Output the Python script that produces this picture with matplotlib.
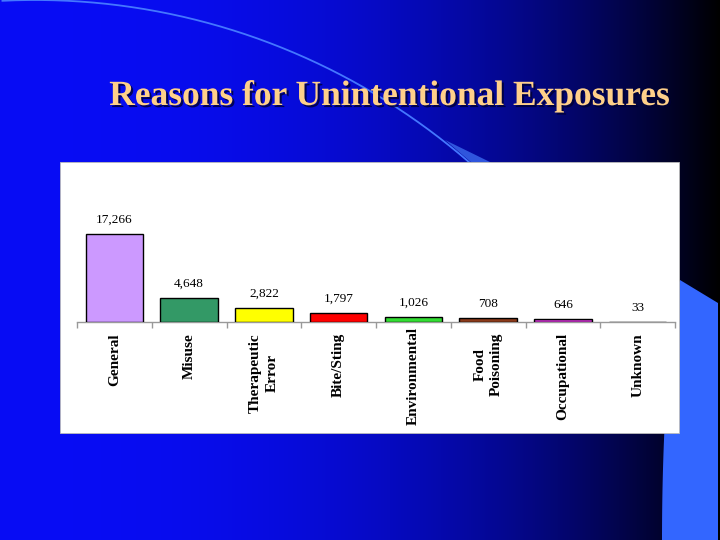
import numpy as np
import matplotlib
matplotlib.use('Agg')
import matplotlib.pyplot as plt
import matplotlib.patheffects as pe
from matplotlib.patches import Rectangle, Polygon

categories = ['General', 'Misuse', 'Therapeutic\nError', 'Bite/Sting',
              'Environmental', 'Food\nPoisoning', 'Occupational', 'Unknown']
values = [17266, 4648, 2822, 1797, 1026, 708, 646, 33]
value_labels = ['17,266', '4,648', '2,822', '1,797', '1,026', '708', '646', '33']
bar_colors = ['#CC99FF', '#339966', '#FFFF00', '#FF0000',
              '#33DD33', '#8B3A1A', '#CC33CC', '#FFFFFF']
title = 'Reasons for Unintentional Exposures'

fig = plt.figure(figsize=(7.2, 5.4), dpi=100)

# slide background, pixel coordinates
bg = fig.add_axes([0, 0, 1, 1])
bg.set_xlim(0, 720)
bg.set_ylim(540, 0)
bg.axis('off')

xs = np.linspace(0, 1, 720)
f = 1 - xs ** 2.5
grad = np.zeros((2, 720, 3))
grad[:, :, 0] = 0.03 * f
grad[:, :, 1] = 0.05 * f
grad[:, :, 2] = 0.96 * f
bg.imshow(grad, extent=(0, 720, 540, 0), aspect='auto', zorder=0)

# decorative arc top-left
t = np.linspace(-1.62, -0.84, 200)
cx, cy, r = 35, 662, 662
bg.plot(cx + r * np.cos(t), cy + r * np.sin(t), color='#4477FF', lw=1.3, zorder=1)
bg.add_patch(Polygon([(445, 140), (492, 163), (472, 163)], closed=True,
                     color='#2F55DD', lw=0, zorder=1))

# light blue shape bottom right
yy = np.linspace(280, 540, 50)
left_edge = 680 - 18 * np.sin((yy - 280) / 260 * np.pi / 2) ** 0.6
pts = [(680, 280), (718, 303), (718, 540)] + [(left_edge[i], yy[i]) for i in range(49, -1, -1)]
bg.add_patch(Polygon(pts, closed=True, color='#3366FF', lw=0, zorder=1))

# white chart panel
bg.add_patch(Rectangle((60, 162), 619, 271, facecolor='white',
                       edgecolor='#BBBBBB', lw=0.6, zorder=2))

fig.text(390 / 720, 1 - 105 / 540, title, ha='center', va='baseline',
         fontsize=25.5, fontweight='bold', family='Liberation Serif',
         color='#FFD08A',
         path_effects=[pe.SimplePatchShadow(offset=(1.5, -1.5), shadow_rgbFace='#000033', alpha=0.8),
                       pe.Normal()])

# bar chart
ax = fig.add_axes([77 / 720, 1 - 322 / 540, 598 / 720, 152 / 540])
ax.patch.set_visible(False)
x = np.arange(len(categories))
ax.bar(x, values, width=0.77, color=bar_colors, edgecolor='black', linewidth=1, zorder=3)
ax.set_xlim(-0.5, len(categories) - 0.5)
ax.set_ylim(0, 17266 * 152 / 88)

for s in ['top', 'right', 'left']:
    ax.spines[s].set_visible(False)
ax.spines['bottom'].set_color('#999999')
ax.spines['bottom'].set_linewidth(1)
ax.set_yticks([])
ax.set_xticks(np.arange(-0.5, len(categories), 1))
ax.set_xticklabels([])
ax.tick_params(axis='x', direction='out', length=4, color='#999999', width=1)

for i, v in enumerate(values):
    ax.annotate(value_labels[i], (i, v), xytext=(0, 8), textcoords='offset points',
                ha='center', va='baseline', fontsize=9.5, family='Liberation Serif',
                color='black')

for i, c in enumerate(categories):
    # the long label sits a bit higher so it stays inside the panel
    off = -3.5 if c == 'Environmental' else -8
    ax.annotate(c, (i, 0), xytext=(0, off), textcoords='offset points',
                ha='center', va='top', rotation=90, multialignment='center',
                fontsize=11, fontweight='bold', family='Liberation Serif',
                color='black', linespacing=1.35)

fig.savefig('out.png', dpi=100)
